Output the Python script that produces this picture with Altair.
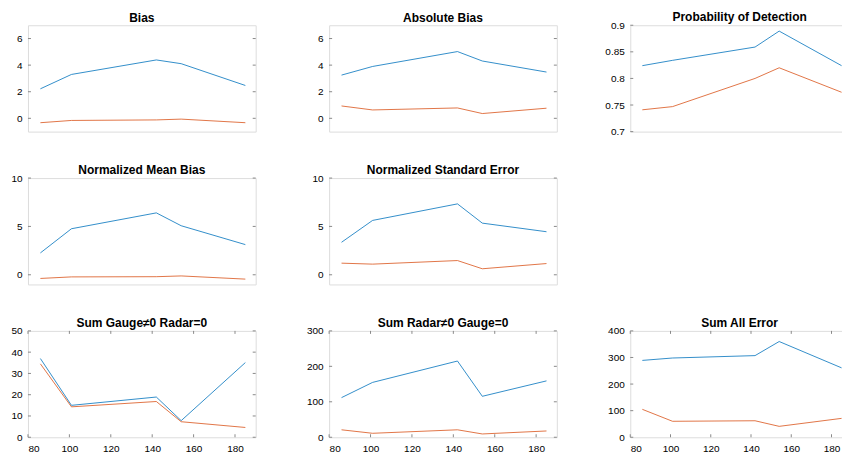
import altair as alt
import pandas as pd

# ---------------- data ----------------
x_vals = [86, 101, 142, 154, 185]

bias_a = [2.22, 3.30, 4.39, 4.11, 2.47]
bias_b = [-0.33, -0.16, -0.12, -0.06, -0.33]
absbias_a = [3.25, 3.90, 5.02, 4.31, 3.48]
absbias_b = [0.93, 0.63, 0.78, 0.36, 0.76]
pod_a = [0.824, 0.834, 0.859, 0.889, 0.824]
pod_b = [0.741, 0.747, 0.800, 0.820, 0.774]
nmb_a = [2.26, 4.76, 6.40, 5.07, 3.12]
nmb_b = [-0.38, -0.22, -0.20, -0.12, -0.45]
nse_a = [3.36, 5.62, 7.33, 5.34, 4.45]
nse_b = [1.20, 1.10, 1.47, 0.62, 1.16]
gauge_a = [37.0, 15.0, 18.9, 7.8, 35.1]
gauge_b = [34.5, 14.3, 16.8, 7.3, 4.6]
radar_a = [111.8, 154.7, 215.0, 115.5, 159.0]
radar_b = [21.0, 11.2, 21.0, 9.3, 17.7]
all_a = [289, 298, 307, 360, 261]
all_b = [105, 60, 62, 41, 71]

titles = ["Bias", "Absolute Bias", "Probability of Detection",
          "Normalized Mean Bias", "Normalized Standard Error",
          "Sum Gauge\u22600 Radar=0", "Sum Radar\u22600 Gauge=0", "Sum All Error"]
y_domains = [[-1, 7], [-1, 7], [0.7, 0.9], [-1, 10], [-1, 10], [0, 50], [0, 300], [0, 400]]
y_ticks = [[0, 2, 4, 6], [0, 2, 4, 6], [0.7, 0.75, 0.8, 0.85, 0.9], [0, 5, 10], [0, 5, 10],
           [0, 10, 20, 30, 40, 50], [0, 100, 200, 300], [0, 100, 200, 300, 400]]
x_ticks = [80, 100, 120, 140, 160, 180]
series_a = [bias_a, absbias_a, pod_a, nmb_a, nse_a, gauge_a, radar_a, all_a]
series_b = [bias_b, absbias_b, pod_b, nmb_b, nse_b, gauge_b, radar_b, all_b]
series_names = ["A", "B"]
series_colors = ["#0072BD", "#D95319"]

# ---------------- layout ----------------
W = 228
W3 = 219
PXU = W / 110.0      # pixels per x unit, columns 1-2
PXU3 = 2.015         # pixels per x unit, column 3 (cropped at the page edge)
H = 106.5
BOX = "#8a8a8a"
TICK_LEN = 3
FONT = "Liberation Sans"


def panel(i, col, bottom_row):
    w = W3 if col == 2 else W
    pxu = PXU3 if col == 2 else PXU
    x_dom = [80, 80 + w / pxu]
    df = pd.DataFrame({
        "x": x_vals * 2,
        "y": series_a[i] + series_b[i],
        "s": ["A"] * 5 + ["B"] * 5,
    })
    xscale = alt.Scale(domain=x_dom, nice=False, zero=False)
    yscale = alt.Scale(domain=y_domains[i], nice=False, zero=False)
    if bottom_row:
        xaxis = alt.Axis(values=x_ticks, format="~r", ticks=False, domain=False,
                         grid=False, labelPadding=6, title=None)
    else:
        xaxis = None
    yaxis = alt.Axis(values=y_ticks[i], format="~r", ticks=False, domain=False,
                     grid=False, labelPadding=6, title=None)

    line = alt.Chart(df).mark_line(strokeWidth=1, opacity=0.8, clip=True).encode(
        x=alt.X("x:Q", scale=xscale, axis=xaxis),
        y=alt.Y("y:Q", scale=yscale, axis=yaxis),
        color=alt.Color("s:N", scale=alt.Scale(domain=series_names, range=series_colors),
                        legend=None),
        detail="s:N",
    )
    tdf = pd.DataFrame({"y": y_ticks[i]})
    lt = alt.Chart(tdf).mark_rule(color=BOX, strokeWidth=1).encode(
        y=alt.Y("y:Q", scale=yscale, axis=yaxis),
        x=alt.value(0), x2=alt.value(TICK_LEN))
    rt = alt.Chart(tdf).mark_rule(color=BOX, strokeWidth=1).encode(
        y=alt.Y("y:Q", scale=yscale, axis=yaxis),
        x=alt.value(w - TICK_LEN), x2=alt.value(w))
    layers = [line, lt, rt]
    if bottom_row:
        xdf = pd.DataFrame({"x": x_ticks})
        bt = alt.Chart(xdf).mark_rule(color=BOX, strokeWidth=1).encode(
            x=alt.X("x:Q", scale=xscale, axis=xaxis),
            y=alt.value(H), y2=alt.value(H - TICK_LEN))
        tt = alt.Chart(xdf).mark_rule(color=BOX, strokeWidth=1).encode(
            x=alt.X("x:Q", scale=xscale, axis=xaxis),
            y=alt.value(0), y2=alt.value(TICK_LEN))
        layers += [bt, tt]
    # a top tick label at the domain maximum pushes the title up; compensate
    toff = -4 if y_ticks[i][-1] == y_domains[i][1] else 0
    return alt.layer(*layers).properties(
        width=w, height=H,
        title=alt.TitleParams(titles[i], fontSize=12, fontWeight="bold", color="#000000",
                              font=FONT, offset=toff, anchor="middle"),
    )


placeholder = alt.Chart(pd.DataFrame({"v": [0]})).mark_point(opacity=0).encode(
    x=alt.X("v:Q", axis=None), y=alt.Y("v:Q", axis=None)
).properties(width=W3, height=H, view=alt.ViewBackground(stroke="transparent"))

charts = [
    panel(0, 0, False), panel(1, 1, False), panel(2, 2, False),
    panel(3, 0, False), panel(4, 1, False), placeholder,
    panel(5, 0, True), panel(6, 1, True), panel(7, 2, True),
]

chart = alt.concat(
    *charts, columns=3,
    spacing=alt.RowColnumber(row=46, column=73.5),
    bounds="flush",
).properties(
    padding={"left": 2, "top": 2, "right": -8, "bottom": 0},
).configure_view(
    stroke=BOX, strokeWidth=1,
).configure_axis(
    labelFont=FONT, labelFontSize=11, labelColor="#333333",
).configure(background="#ffffff")

chart.save("out.html", embed_options={"renderer": "svg", "actions": False})
